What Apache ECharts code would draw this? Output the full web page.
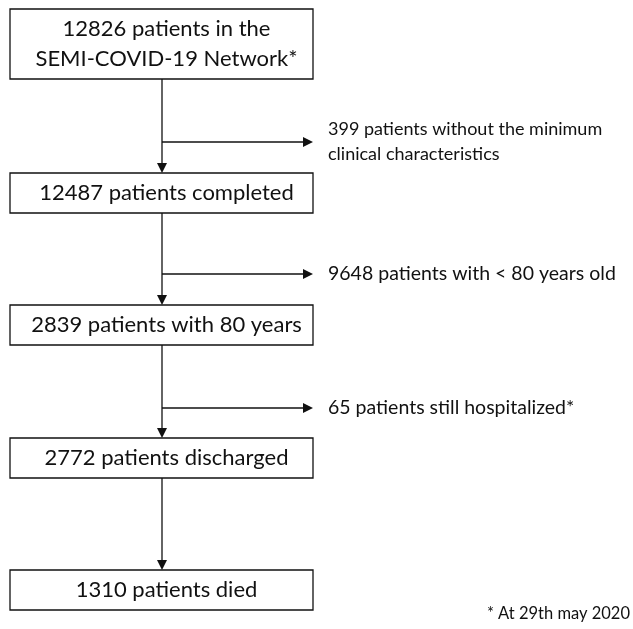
<!DOCTYPE html>
<html>
<head>
<meta charset="utf-8">
<script src="https://cdn.jsdelivr.net/npm/echarts@6/dist/echarts.min.js"></script>
<style>
html, body { margin: 0; padding: 0; background: #fff; }
#content { width: 633px; height: 629px; }
</style>
</head>
<body>
<div id="content"></div>
<script>
// flow steps (main column) and the exclusions branching off to the right
var boxLabels = [
    '12826 patients in the\nSEMI-COVID-19 Network*',
    '12487 patients completed',
    '2839 patients with 80 years',
    '2772 patients discharged',
    '1310 patients died'
];
var sideLabels = [
    '399 patients without the minimum\nclinical characteristics',
    '9648 patients with < 80 years old',
    '65 patients still hospitalized*'
];
var footnote = '* At 29th may 2020';

// layout
var boxLeft = 10, boxRight = 313, midX = 162;
var boxTop = [9, 173, 305, 438, 570];
var boxH = [70, 40, 40, 40, 40];
var branchY = [142, 274, 408];
var sideSize = [18, 19.5, 19.5];
var sideX = 328;
var fontFam = 'Lato, "Open Sans", sans-serif';
var ink = '#111';

var myChart = echarts.init(document.getElementById('content'), null, {renderer: 'canvas'});

var els = [];

function downArrow(x, y) {
    return {type: 'polygon', shape: {points: [[x - 5, y - 10], [x + 5, y - 10], [x, y]]}, style: {fill: ink}};
}
function rightArrow(x, y) {
    return {type: 'polygon', shape: {points: [[x - 10, y - 5], [x - 10, y + 5], [x, y]]}, style: {fill: ink}};
}

boxLabels.forEach(function (lbl, i) {
    els.push({
        type: 'rect',
        shape: {x: boxLeft, y: boxTop[i], width: boxRight - boxLeft, height: boxH[i]},
        style: {fill: '#fff', stroke: ink, lineWidth: 1.3}
    });
    els.push({
        type: 'text',
        x: (boxLeft + boxRight) / 2 + 5,
        y: boxTop[i] + boxH[i] / 2,
        style: {
            text: lbl, fill: ink, font: '22px ' + fontFam,
            align: 'center', verticalAlign: 'middle', lineHeight: 30
        }
    });
    // connector to next box
    if (i < boxLabels.length - 1) {
        var y0 = boxTop[i] + boxH[i], y1 = boxTop[i + 1];
        els.push({type: 'line', shape: {x1: midX, y1: y0, x2: midX, y2: y1 - 9}, style: {stroke: ink, lineWidth: 1.3}});
        els.push(downArrow(midX, y1));
    }
});

sideLabels.forEach(function (lbl, i) {
    var y = branchY[i];
    els.push({type: 'line', shape: {x1: midX, y1: y, x2: boxRight - 9, y2: y}, style: {stroke: ink, lineWidth: 1.3}});
    els.push(rightArrow(boxRight, y));
    els.push({
        type: 'text', x: sideX, y: y,
        style: {
            text: lbl, fill: ink, font: sideSize[i] + 'px ' + fontFam,
            align: 'left', verticalAlign: 'middle', lineHeight: 25
        }
    });
});

els.push({
    type: 'text', x: 630, y: 614,
    style: {text: footnote, fill: ink, font: '16.5px ' + fontFam, align: 'right', verticalAlign: 'middle'}
});

var option = {
    backgroundColor: '#fff',
    animation: false,
    graphic: {elements: els}
};
myChart.setOption(option);
</script>
</body>
</html>
